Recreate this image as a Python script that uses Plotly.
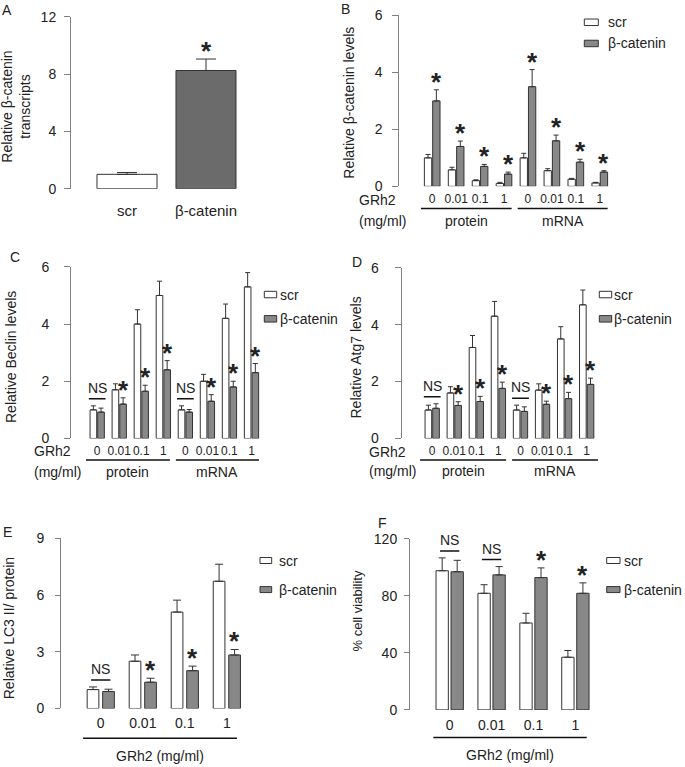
import plotly.graph_objects as go

W = 685           # reference width (px)
H_FIG = 767       # figure height
Y_SCALE = 0.98    # measured vertical scale of the captured picture
Y_OFF = 8.2       # measured vertical offset of the captured picture
FONT = "Liberation Sans, Arial, sans-serif"
TXT = "#222222"
AX = "#808080"
EDGE = "#333333"
GRAY = "#888888"
DARK = "#6b6b6b"

# ---------------- data ----------------
A_cats = ["scr", "β-catenin"]
A_vals = [1.0, 8.25]
A_err = [0.13, 0.8]

doses = ["0", "0.01", "0.1", "1"]
series_names = ["scr", "β-catenin"]

B_scr = [1.0, 0.58, 0.2, 0.1, 1.0, 0.55, 0.25, 0.12]
B_scr_err = [0.12, 0.09, 0.03, 0.04, 0.16, 0.07, 0.03, 0.02]
B_bcat = [3.0, 1.4, 0.7, 0.43, 3.5, 1.6, 0.85, 0.5]
B_bcat_err = [0.39, 0.19, 0.07, 0.07, 0.6, 0.2, 0.1, 0.05]
B_sig = ["*", "*", "*", "*", "*", "*", "*", "*"]

C_scr = [1.0, 1.7, 4.0, 5.0, 1.0, 2.0, 4.2, 5.3]
C_scr_err = [0.14, 0.21, 0.5, 0.5, 0.14, 0.24, 0.5, 0.5]
C_bcat = [0.92, 1.2, 1.65, 2.4, 0.92, 1.3, 1.8, 2.3]
C_bcat_err = [0.14, 0.22, 0.21, 0.32, 0.09, 0.23, 0.2, 0.32]
C_sig = ["NS", "*", "*", "*", "NS", "*", "*", "*"]

D_scr = [1.0, 1.6, 3.2, 4.3, 1.0, 1.7, 3.5, 4.7]
D_scr_err = [0.17, 0.22, 0.42, 0.52, 0.17, 0.22, 0.43, 0.52]
D_bcat = [1.06, 1.16, 1.3, 1.76, 0.95, 1.2, 1.4, 1.9]
D_bcat_err = [0.16, 0.13, 0.18, 0.22, 0.16, 0.11, 0.22, 0.22]
D_sig = ["NS", "*", "*", "*", "NS", "*", "*", "*"]

E_scr = [1.0, 2.5, 5.1, 6.73]
E_scr_err = [0.14, 0.33, 0.63, 0.9]
E_bcat = [0.9, 1.39, 2.0, 2.83]
E_bcat_err = [0.12, 0.21, 0.24, 0.29]
E_sig = ["NS", "*", "*", "*"]

F_scr = [97.5, 81.7, 60.9, 36.9]
F_scr_err = [9.0, 6.0, 6.8, 4.7]
F_bcat = [96.8, 94.6, 92.7, 81.7]
F_bcat_err = [8.0, 5.8, 6.8, 7.3]
F_sig = ["NS", "NS", "*", "*"]

fig = go.Figure()
ann = []
shapes = []


def py(p):
    return 1 - ((p - Y_OFF) / Y_SCALE) / H_FIG


def px(p):
    return p / W


def xdom(p0, p1):
    return [px(p0), px(p1)]


def ydom(pb, pt):
    return [py(pb), py(pt)]


def text(x, y, s, size=14, xref="paper", yref="paper", xanchor="center", yanchor="middle", angle=0, **kw):
    ann.append(dict(x=x, y=y, text=s, xref=xref, yref=yref, xanchor=xanchor, yanchor=yanchor,
                    showarrow=False, textangle=angle, font=dict(size=size, color=TXT, family=FONT), **kw))


def yaxis_style(rng, tickvals, standoff, ticklen=6):
    return dict(range=rng, showgrid=False, zeroline=False, showline=True, linecolor=AX, linewidth=1,
                ticks="outside", ticklen=ticklen, tickcolor=AX, tickwidth=1, tickvals=tickvals,
                tickfont=dict(size=14, color=TXT, family=FONT), ticklabelstandoff=standoff, fixedrange=True)


def xaxis_style(rng, tickvals, ticktext, size, standoff):
    return dict(range=rng, showgrid=False, zeroline=False, showline=False, ticks="", tickvals=tickvals,
                ticktext=ticktext, tickangle=0, tickfont=dict(size=size, color=TXT, family=FONT),
                ticklabelstandoff=standoff, fixedrange=True)


STAR = 26

# ---------------- panel A ----------------
fig.add_trace(go.Bar(x=list(range(len(A_cats))), y=A_vals, width=0.76,
                     marker=dict(color=["white", DARK], line=dict(color=EDGE, width=1)),
                     error_y=dict(type="data", symmetric=False, array=A_err, arrayminus=[0, 0],
                                  color=EDGE, thickness=1, width=10),
                     showlegend=False, xaxis="x", yaxis="y"))
text(1, A_vals[1] + A_err[1], "<b>*</b>", size=STAR, xref="x", yref="y", yshift=8)

# ---------------- grouped panels ----------------
panels = [
    dict(k="2", scr=B_scr, se=B_scr_err, bc=B_bcat, be=B_bcat_err, sig=B_sig, bw=0.306, off=0.348, cap=2.5),
    dict(k="3", scr=C_scr, se=C_scr_err, bc=C_bcat, be=C_bcat_err, sig=C_sig, bw=0.30, off=0.348, cap=2.5),
    dict(k="4", scr=D_scr, se=D_scr_err, bc=D_bcat, be=D_bcat_err, sig=D_sig, bw=0.30, off=0.348, cap=2.5),
    dict(k="5", scr=E_scr, se=E_scr_err, bc=E_bcat, be=E_bcat_err, sig=E_sig, bw=0.278, off=0.369, cap=4),
    dict(k="6", scr=F_scr, se=F_scr_err, bc=F_bcat, be=F_bcat_err, sig=F_sig, bw=0.294, off=0.358, cap=3.5),
]

for p in panels:
    n = len(p["scr"])
    xs = list(range(n))
    half = p["off"] / 2
    for name, vals, errs, col, o in [(series_names[0], p["scr"], p["se"], "white", -half - p["bw"] / 2),
                                     (series_names[1], p["bc"], p["be"], GRAY, half - p["bw"] / 2)]:
        fig.add_trace(go.Bar(x=xs, y=vals, width=p["bw"], offset=o, name=name,
                             marker=dict(color=col, line=dict(color=EDGE, width=1)),
                             error_y=dict(type="data", symmetric=False, array=errs, arrayminus=[0] * n,
                                          color=EDGE, thickness=1, width=p["cap"]),
                             showlegend=False, xaxis="x" + p["k"], yaxis="y" + p["k"]))
    for i, s in enumerate(p["sig"]):
        if s == "*":
            text(i + half, p["bc"][i] + p["be"][i], "<b>*</b>", size=STAR,
                 xref="x" + p["k"], yref="y" + p["k"], yshift=8)
        else:
            top = max(p["scr"][i] + p["se"][i], p["bc"][i] + p["be"][i])
            hw = 0.38 if n == 8 else 0.23
            shapes.append(dict(type="line", xref="x" + p["k"], yref="y" + p["k"], ysizemode="pixel",
                               yanchor=top, x0=i - hw, x1=i + hw, y0=7, y1=7,
                               line=dict(color="#111111", width=1.5)))
            text(i, top, "NS", size=14, xref="x" + p["k"], yref="y" + p["k"], yshift=18)

# ---------------- axes ----------------
lay = {}
lay["xaxis"] = dict(domain=xdom(71, 262), anchor="y",
                    **xaxis_style([-0.709, 1.709], [0, 1], A_cats, 15, 11))
lay["yaxis"] = dict(domain=ydom(189, 17), anchor="x", **yaxis_style([0, 12], [0, 4, 8, 12], 5))

idx8 = list(range(8))
lay["xaxis2"] = dict(domain=xdom(399.3, 615), anchor="y2",
                     **xaxis_style([-1.374, 7.636], idx8, doses * 2, 12, 4))
lay["yaxis2"] = dict(domain=ydom(186.7, 15.7), anchor="x2", **yaxis_style([0, 6], [0, 2, 4, 6], 7))

lay["xaxis3"] = dict(domain=xdom(71, 262), anchor="y3",
                     **xaxis_style([-1.189, 7.477], idx8, doses * 2, 12, 4))
lay["yaxis3"] = dict(domain=ydom(439, 267.3), anchor="x3", **yaxis_style([0, 6], [0, 2, 4, 6], 12))

lay["xaxis4"] = dict(domain=xdom(401.7, 600), anchor="y4",
                     **xaxis_style([-1.382, 7.603], idx8, doses * 2, 12, 4))
lay["yaxis4"] = dict(domain=ydom(439, 268.3), anchor="x4", **yaxis_style([0, 6], [0, 2, 4, 6], 13))

lay["xaxis5"] = dict(domain=xdom(61, 245), anchor="y5",
                     **xaxis_style([-0.946, 3.432], [0, 1, 2, 3], doses, 14, 5))
lay["yaxis5"] = dict(domain=ydom(709.3, 539), anchor="x5", **yaxis_style([0, 9], [0, 3, 6, 9], 8, ticklen=5))

lay["xaxis6"] = dict(domain=xdom(410, 600), anchor="y6",
                     **xaxis_style([-0.947, 3.587], [0, 1, 2, 3], doses, 14, 5))
lay["yaxis6"] = dict(domain=ydom(710.7, 539.3), anchor="x6", **yaxis_style([0, 120], [0, 40, 80, 120], 4, ticklen=5))


# ---------------- group underlines & labels ----------------
def underline(k, x0, x1, ypx, label, lypx, size=14):
    shapes.append(dict(type="line", xref="x" + k, yref="paper", x0=x0, x1=x1, y0=py(ypx), y1=py(ypx),
                       line=dict(color="#111111", width=1.5)))
    text((x0 + x1) / 2, py(lypx), label, size=size, xref="x" + k)


underline("2", -0.47, 3.32, 209, "protein", 221)
underline("2", 3.57, 7.33, 209, "mRNA", 221)
underline("3", -0.51, 3.30, 460.7, "protein", 473)
underline("3", 3.57, 7.34, 460.7, "mRNA", 473)
underline("4", -0.55, 3.35, 460.7, "protein", 472)
underline("4", 3.62, 7.51, 460.7, "mRNA", 472)
underline("5", -0.42, 3.24, 739, "GRh2 (mg/ml)", 757)
underline("6", -0.39, 3.27, 738.3, "GRh2 (mg/ml)", 756)

for xl, y1, y2 in [(357, 200, 221), (32, 452, 473), (367, 453, 472)]:
    text(px(xl), py(y1), "GRh2", xanchor="left")
    text(px(xl), py(y2), "(mg/ml)", xanchor="left")

# ---------------- axis titles ----------------
text(px(16), py(107), "Relative β-catenin<br>transcripts", angle=-90)
text(px(349), py(103), "Relative β-catenin levels", angle=-90)
text(px(11), py(357.5), "Relative Beclin levels", angle=-90)
text(px(356), py(358), "Relative Atg7 levels", angle=-90)
text(px(9), py(629), "Relative LC3 II/ protein", angle=-90)
text(px(357.5), py(611.7), "% cell viability", angle=-90, size=13)

# ---------------- panel letters ----------------
for s, x, y in [("A", 7, 10), ("B", 345, 9), ("C", 15, 257), ("D", 357, 262), ("E", 8, 533), ("F", 382, 524)]:
    text(px(x), py(y), s, size=14)


# ---------------- legends (swatch + label) ----------------
def legend(x0, x1, ys, h, xt):
    for name, yc, col in zip(series_names, ys, ["white", GRAY]):
        shapes.append(dict(type="rect", xref="paper", yref="paper", x0=px(x0), x1=px(x1),
                           y0=py(yc + h / 2), y1=py(yc - h / 2), fillcolor=col,
                           line=dict(color=EDGE, width=1)))
        text(px(xt), py(yc), name, xanchor="left")


legend(584.3, 598.3, [22.5, 43.7], 6.5, 606)
legend(264.3, 276.7, [295, 319.3], 6.5, 278)
legend(599.3, 611.7, [295, 319.3], 6.5, 612)
legend(260, 271.7, [561.2, 590.3], 6, 276.5)
legend(606.7, 620, [561.2, 590.3], 6, 622)

fig.update_layout(**lay)
fig.update_layout(width=W, height=H_FIG, margin=dict(l=0, r=0, t=0, b=0), barmode="overlay",
                  plot_bgcolor="white", paper_bgcolor="white", annotations=ann, shapes=shapes,
                  font=dict(family=FONT, color=TXT, size=14))

post = ("document.documentElement.style.margin='0px';document.body.style.margin='0px';"
        "document.documentElement.style.overflow='hidden';document.body.style.overflow='hidden';"
        "var gd=document.getElementById('{plot_id}');gd.style.overflow='visible';"
        "gd.querySelectorAll('svg').forEach(function(s){s.style.overflow='visible';});")
fig.write_html("out.html", config={"displayModeBar": False}, post_script=post)
